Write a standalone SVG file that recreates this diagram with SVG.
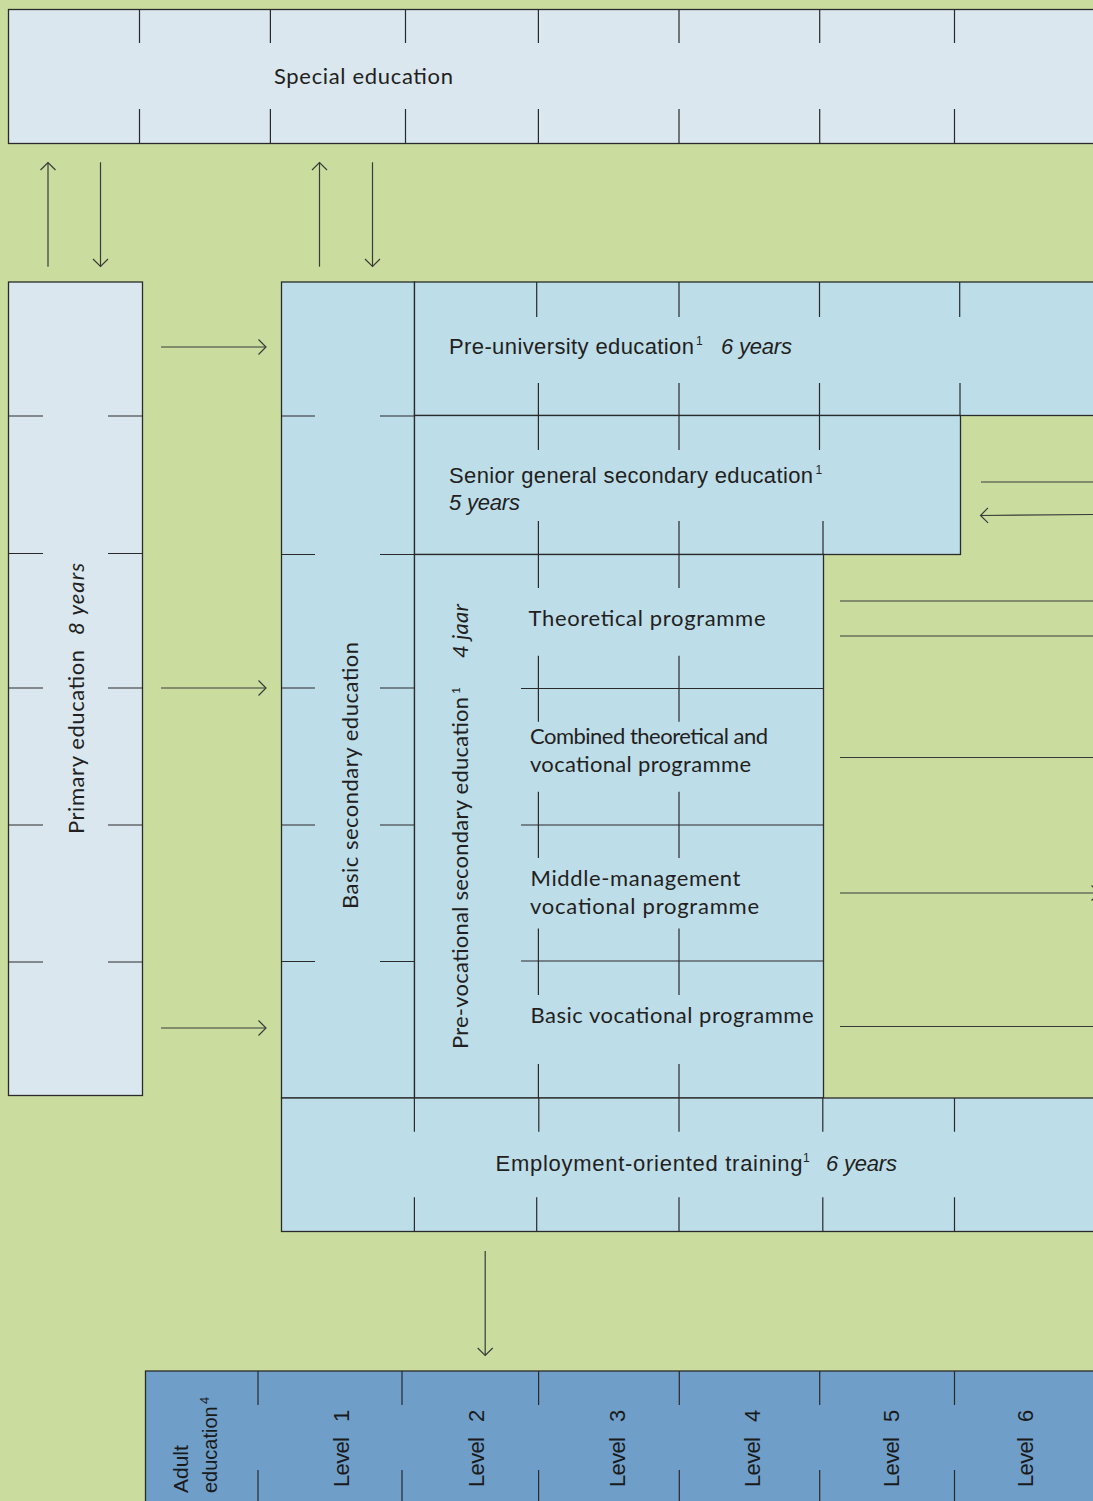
<svg xmlns="http://www.w3.org/2000/svg" width="1093" height="1501" viewBox="0 0 1093 1501">
<style>
.bg{fill:#CADD9E}
.light{fill:#DAE7EF;stroke:#2a2a2a;stroke-width:1.3}
.mid{fill:#BDDDE9;stroke:#2a2a2a;stroke-width:1.3}
.dark{fill:#6F9EC8;stroke:#2a2a2a;stroke-width:1.3}
.tick{fill:none;stroke:#2a2a2a;stroke-width:1.2}
.conn{fill:none;stroke:#3a3a3a;stroke-width:1.2}
.hs{font-family:Lato,"Open Sans","Liberation Sans",sans-serif;font-size:22px;fill:#231f20}
.cn{font-family:"Liberation Sans",Arial,sans-serif;font-size:22px;fill:#231f20}
.hv{font-family:"Liberation Sans",Arial,sans-serif;font-size:22px;fill:#1a1a1a}
.it{font-style:italic}
.sup{font-size:12px}
</style>
<defs>
<marker id="ah" markerUnits="userSpaceOnUse" markerWidth="20" markerHeight="20" viewBox="-10 -10 20 20" refX="0" refY="0" orient="auto" overflow="visible">
<path d="M-7.5,-7.5 L0,0 L-7.5,7.5" fill="none" stroke="#3a3a3a" stroke-width="1.2"/>
</marker>
</defs>
<rect class="bg" x="0" y="0" width="1093" height="1501"/>

<g id="special-education">
<rect class="light" x="8.5" y="9.5" width="1100" height="134"/>
<path class="tick" d="M139.5,9.5V43M270.4,9.5V43M405.5,9.5V43M538.4,9.5V43M679,9.5V43M819.7,9.5V43M954.5,9.5V43M139.5,109V143.5M270.4,109V143.5M405.5,109V143.5M538.4,109V143.5M679,109V143.5M819.7,109V143.5M954.5,109V143.5"/>
<text class="hs" x="274" y="84" textLength="179">Special education</text>
</g>

<g id="primary-education">
<rect class="light" x="8.5" y="282" width="134" height="813.5"/>
<path class="tick" d="M8.5,416H43M108,416H142.5M8.5,553.5H43M108,553.5H142.5M8.5,688H43M108,688H142.5M8.5,825H43M108,825H142.5M8.5,962H43M108,962H142.5"/>
<g transform="translate(83.5,834) rotate(-90)">
<text class="hs" x="0" y="0" textLength="184">Primary education</text>
<text class="hs it" x="199" y="0" textLength="72">8 years</text>
</g>
</g>

<g id="basic-secondary-education">
<rect class="mid" x="281.5" y="282" width="133" height="816"/>
<path class="tick" d="M281.5,416H315M380,416H414.5M281.5,554.5H315M380,554.5H414.5M281.5,688H315M380,688H414.5M281.5,825H315M380,825H414.5M281.5,961.5H315M380,961.5H414.5"/>
<text class="hs" transform="translate(358,909) rotate(-90)" x="0" y="0" textLength="267">Basic secondary education</text>
</g>

<g id="pre-university-education">
<rect class="mid" x="414.5" y="282" width="700" height="133.5"/>
<path class="tick" d="M536.7,282V317M679,282V317M819.5,282V317M959.7,282V317M538.4,383V415.5M679,383V415.5M819.5,383V415.5M960,383V415.5"/>
<text class="cn" x="449" y="354" textLength="245">Pre-university education</text>
<text class="cn sup" x="696" y="345">1</text>
<text class="cn it" x="721" y="354" textLength="71">6 years</text>
</g>

<g id="senior-general-secondary-education">
<rect class="mid" x="414.5" y="415.5" width="546" height="139"/>
<path class="tick" d="M538.4,415.5V450M679,415.5V450M819.5,415.5V450M538.4,521V554.5M679,521V554.5M823,521V554.5"/>
<text class="cn" x="449" y="483" textLength="364">Senior general secondary education</text>
<text class="cn sup" x="815.5" y="474">1</text>
<text class="cn it" x="449" y="510" textLength="71">5 years</text>
</g>

<g id="pre-vocational-secondary-education">
<rect class="mid" x="414.5" y="554.5" width="409" height="543.5"/>
<g transform="translate(467.5,1049) rotate(-90)">
<text class="hs" x="0" y="0" textLength="352">Pre-vocational secondary education</text>
<text class="hs sup" x="355" y="-8">1</text>
<text class="hs it" x="391" y="0" textLength="54">4 jaar</text>
</g>
</g>

<g id="theoretical-programme">
<path class="tick" d="M538.4,554.5V588M679,554.5V588M538.4,655.7V688.5M679,655.7V688.5"/>
<text class="hs" x="528.5" y="625.5" textLength="237">Theoretical programme</text>
</g>

<g id="combined-programme">
<path class="tick" d="M521,688.5H823.5M538.4,688.5V721.8M679,688.5V721.8M538.4,791.7V825M679,791.7V825"/>
<text class="hs" x="530" y="743.5" textLength="238">Combined theoretical and</text>
<text class="hs" x="530" y="772" textLength="221">vocational programme</text>
</g>

<g id="middle-management-programme">
<path class="tick" d="M521,825H823.5M538.4,825V857.9M679,825V857.9M538.4,928.5V961M679,928.5V961"/>
<text class="hs" x="530.5" y="885.5" textLength="210">Middle-management</text>
<text class="hs" x="530" y="913.5" textLength="229">vocational programme</text>
</g>

<g id="basic-vocational-programme">
<path class="tick" d="M521,961H823.5M538.4,961V995M679,961V995M538.4,1064V1098M679,1064V1098"/>
<text class="hs" x="530.5" y="1022.5" textLength="283">Basic vocational programme</text>
</g>

<g id="employment-oriented-training">
<rect class="mid" x="281.5" y="1098" width="830" height="133.5"/>
<path class="tick" d="M414.4,1098V1131.7M538.8,1098V1131.7M679,1098V1131.7M822.8,1098V1131.7M954.5,1098V1131.7M414.4,1197.3V1231.5M536.7,1197.3V1231.5M679,1197.3V1231.5M822.8,1197.3V1231.5M954.5,1197.3V1231.5"/>
<text class="cn" x="495.5" y="1171" textLength="307">Employment-oriented training</text>
<text class="cn sup" x="803" y="1162">1</text>
<text class="cn it" x="826" y="1171" textLength="71">6 years</text>
</g>

<g id="adult-education">
<rect class="dark" x="145.5" y="1371" width="960" height="140"/>
<path class="tick" d="M258,1371V1405M402,1371V1405M538.6,1371V1405M679.3,1371V1405M819.7,1371V1405M954.5,1371V1405M258,1470V1501M402,1470V1501M538.6,1470V1501M679.3,1470V1501M819.7,1470V1501M954.5,1470V1501"/>
<text class="hv" transform="translate(188,1493) rotate(-90)" x="0" y="0" style="font-size:21px">Adult</text>
<g transform="translate(216.5,1493) rotate(-90)">
<text class="hv" x="0" y="0" style="font-size:20px">education</text>
<text class="hv" x="89" y="-8" style="font-size:13px">4</text>
</g>
<g transform="translate(349,1487) rotate(-90)"><text class="hv" x="0" y="0" textLength="50">Level</text><text class="hv" x="65" y="0">1</text></g>
<g transform="translate(484,1487) rotate(-90)"><text class="hv" x="0" y="0" textLength="50">Level</text><text class="hv" x="65" y="0">2</text></g>
<g transform="translate(625,1487) rotate(-90)"><text class="hv" x="0" y="0" textLength="50">Level</text><text class="hv" x="65" y="0">3</text></g>
<g transform="translate(760,1487) rotate(-90)"><text class="hv" x="0" y="0" textLength="50">Level</text><text class="hv" x="65" y="0">4</text></g>
<g transform="translate(899,1487) rotate(-90)"><text class="hv" x="0" y="0" textLength="50">Level</text><text class="hv" x="65" y="0">5</text></g>
<g transform="translate(1033,1487) rotate(-90)"><text class="hv" x="0" y="0" textLength="50">Level</text><text class="hv" x="65" y="0">6</text></g>
</g>

<g id="connectors">
<path class="conn" marker-end="url(#ah)" d="M48,266.7V162.5"/>
<path class="conn" marker-end="url(#ah)" d="M100.5,162.3V266.5"/>
<path class="conn" marker-end="url(#ah)" d="M319.5,266.7V162.5"/>
<path class="conn" marker-end="url(#ah)" d="M372.5,162.3V266.5"/>
<path class="conn" marker-end="url(#ah)" d="M161,347H266"/>
<path class="conn" marker-end="url(#ah)" d="M161,688H266"/>
<path class="conn" marker-end="url(#ah)" d="M161,1028H266"/>
<path class="conn" marker-end="url(#ah)" d="M485.2,1251V1355.5"/>
<path class="conn" d="M981,482H1093"/>
<path class="conn" marker-end="url(#ah)" d="M1093,514.5L980.5,515.5"/>
<path class="conn" d="M840,601H1093"/>
<path class="conn" d="M840,636H1093"/>
<path class="conn" d="M840,757.5H1093"/>
<path class="conn" marker-end="url(#ah)" d="M840,893H1099"/>
<path class="conn" d="M840,1026.5H1093"/>
</g>
</svg>
